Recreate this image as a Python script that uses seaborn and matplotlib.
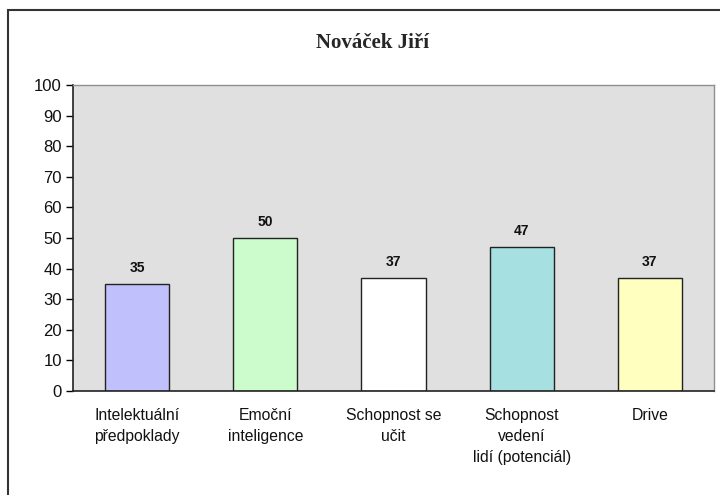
import numpy as np
import pandas as pd
import matplotlib.pyplot as plt
import seaborn as sns
from matplotlib.patches import Rectangle

# data
categories = ["Intelektuální\npředpoklady", "Emoční\ninteligence", "Schopnost se\nučit",
              "Schopnost\nvedení\nlidí (potenciál)", "Drive"]
values = [35, 50, 37, 47, 37]
bar_colors = ["#c0c0fc", "#ccfccc", "#ffffff", "#a6e0e0", "#ffffc0"]
yticks = list(range(0, 101, 10))
title = "Nováček Jiří"

sns.set_style("white")
plt.rcParams['font.family'] = ['Liberation Sans', 'DejaVu Sans']

df = pd.DataFrame({"cat": categories, "val": values})

fig = plt.figure(figsize=(7.2, 4.95), dpi=100)
ax = fig.add_axes([0.1014, 0.2101, 0.8903, 0.6182])
ax.set_facecolor("#e0e0e0")

sns.barplot(data=df, x="cat", y="val", hue="cat", palette=bar_colors, legend=False,
            width=0.5, edgecolor="#222222", linewidth=1.0, saturation=1, ax=ax)

# value labels
for i, v in enumerate(values):
    ax.text(i, v + 3, str(v), ha="center", va="bottom", fontsize=10, fontweight="bold",
            color="#111111")

ax.set_ylim(0, 100)
ax.set_xlim(-0.5, len(categories) - 0.5)
ax.set_yticks(yticks)
ax.set_yticklabels([str(t) for t in yticks], fontsize=12, color="#111111")
ax.set_xticks(range(len(categories)))
ax.set_xticklabels(categories, fontsize=11.3, va="top", linespacing=1.5, color="#111111")
ax.set_xticks(np.arange(-0.5, len(categories)), minor=True)
ax.tick_params(axis="x", which="major", length=0, pad=12)
ax.tick_params(axis="x", which="minor", length=5, width=1, color="black", direction="out")
ax.tick_params(axis="y", length=5, width=1, color="black", direction="out", pad=3, left=True)
ax.set_xlabel("")
ax.set_ylabel("")

for s in ["left", "bottom"]:
    ax.spines[s].set_color("#222222")
    ax.spines[s].set_linewidth(1.2)
for s in ["top", "right"]:
    ax.spines[s].set_color("#909090")
    ax.spines[s].set_linewidth(1.0)

fig.text(0.517, 0.914, title, ha="center", va="center", fontsize=15,
         fontweight="bold", family=["Liberation Serif", "DejaVu Serif"])

# outer chart border (runs off the right and bottom edge)
fig.patches.append(Rectangle((8 / 720, -0.05), 1.0, 1 - 10 / 495 + 0.05,
                             transform=fig.transFigure, fill=False,
                             edgecolor="#333333", linewidth=1.5))

fig.savefig("out.png", dpi=100)
